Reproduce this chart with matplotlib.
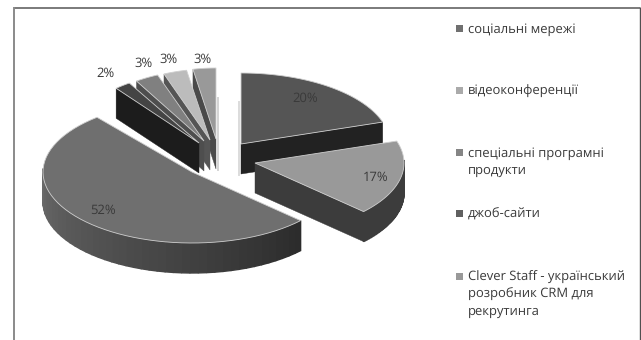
import numpy as np
import matplotlib
matplotlib.use("Agg")
import matplotlib.pyplot as plt
from matplotlib.patches import Polygon, Rectangle

plt.rcParams['font.family'] = ['Open Sans', 'DejaVu Sans']
plt.rcParams['text.hinting'] = 'none'

# Data
slice_values = [20, 17, 52, 2, 3, 3, 3]
value_labels = ['20%', '17%', '52%', '2%', '3%', '3%', '3%']
legend_labels = ['соціальні мережі', 'відеоконференції',
                 'спеціальні програмні\nпродукти', 'джоб-сайти',
                 'Clever Staff - український\nрозробник CRM для\nрекрутинга']

# Style
W, H = 641, 340
RXS = [149, 149, 149, 130, 126, 125, 123]
RY, DEPTH = 71, 30
apexes = [(241, 144), (255, 163), (192, 172), (199, 143), (204, 141), (210, 140), (216, 139)]
top_colors = ['#555555', '#999999', '#6f6f6f', '#444444', '#808080', '#bcbcbc', '#999999']
radial_colors = ['#222222', '#3c3c3c', '#2a2a2a', '#1c1c1c', '#4e4e4e', '#555555', '#4a4a4a']
label_offsets = [(64, -46), (121, 14), (-89, 38), (-94, -70), (-60, -78), (-41, -81), (-13, -80)]
legend_colors = ['#707070', '#aaaaaa', '#858585', '#606060', '#999999']
legend_y = [28, 90, 152, 213, 276]
TEXT = '#3a3a3a'

fig = plt.figure(figsize=(W / 100, H / 100), dpi=100, facecolor='white')
ax = fig.add_axes([0, 0, 1, 1])
ax.set_xlim(0, W)
ax.set_ylim(H, 0)
ax.axis('off')

# Chart frame
ax.plot([13.5, 640], [7.5, 7.5], color='#707070', lw=1.3, solid_capstyle='butt')
ax.plot([13.5, 13.5], [7, 340], color='#8a8a8a', lw=1.4, solid_capstyle='butt')
ax.plot([640, 640], [7, 340], color='#505050', lw=1.0, solid_capstyle='butt')

fractions = np.array(slice_values, dtype=float) / sum(slice_values)
edges = np.concatenate([[0], np.cumsum(fractions)]) * 2 * np.pi


def rim(i, theta):
    return apexes[i][0] + RXS[i] * np.sin(theta), apexes[i][1] - RY * np.cos(theta)


def wall_shade(theta):
    # lighter towards the left of the pie, darker to the right
    t = np.clip((theta - edges[2]) / (1.5 * np.pi - edges[2]), 0, 1)
    return str(0.17 + 0.24 * t)


def draw_slice(i):
    a0, a1 = edges[i], edges[i + 1]
    apex = apexes[i]
    thetas = np.linspace(a0, a1, 60)
    x, y = rim(i, thetas)
    # outer curved wall
    if i in (1, 2):
        for t0, t1 in zip(thetas[:-1], thetas[1:]):
            if np.cos((t0 + t1) / 2) < 0.05:
                x0, y0 = rim(i, t0)
                x1, y1 = rim(i, t1)
                c = '#3c3c3c' if i == 1 else wall_shade((t0 + t1) / 2)
                ax.add_patch(Polygon([(x0, y0), (x1, y1), (x1, y1 + DEPTH), (x0, y0 + DEPTH)],
                                     closed=True, fc=c, ec=c, lw=1.0))
    # flat cut wall
    if i in (0, 1):
        ex, ey = x[-1], y[-1]
    else:
        ex, ey = x[0], y[0]
    if i != 2:
        ax.add_patch(Polygon([apex, (ex, ey), (ex, ey + DEPTH), (apex[0], apex[1] + DEPTH)],
                             closed=True, fc=radial_colors[i], ec=radial_colors[i], lw=0.3))
    # top face
    pts = [apex] + list(zip(x, y))
    ax.add_patch(Polygon(pts, closed=True, fc=top_colors[i], ec='#cfcfcf', lw=0.6))


# faint back edges behind the two slices beside the 12 o'clock gap
ax.plot([apexes[6][0] + 2] * 2, [98, apexes[6][1] + DEPTH + 1], color='#d4d4d4', lw=1.4)
ax.plot([apexes[0][0] - 2] * 2, [102, apexes[0][1] + DEPTH + 1], color='#dcdcdc', lw=1.4)

for i in [6, 5, 4, 3, 2, 0, 1]:
    draw_slice(i)

for i, lab in enumerate(value_labels):
    ax.text(apexes[i][0] + label_offsets[i][0], apexes[i][1] + label_offsets[i][1], lab,
            fontsize=9.4, color=TEXT, ha='center', va='center')

for lab, c, y in zip(legend_labels, legend_colors, legend_y):
    ax.add_patch(Rectangle((456, y - 3.5), 7, 7, fc=c, ec='none'))
    ax.text(468, y - 5, lab, fontsize=9.4, color=TEXT, ha='left', va='top', linespacing=1.42)

fig.savefig('out.png', dpi=100)
